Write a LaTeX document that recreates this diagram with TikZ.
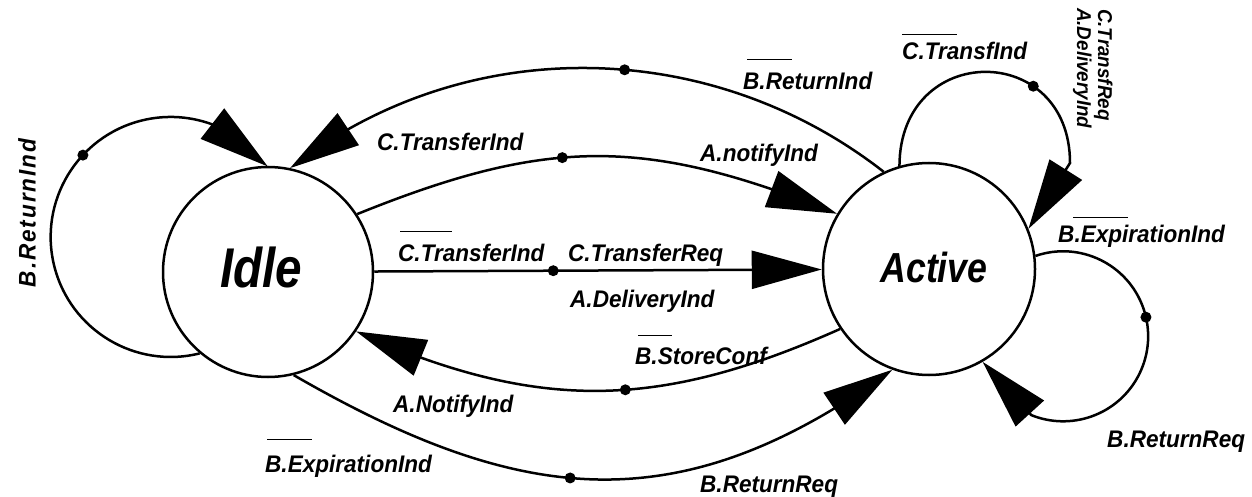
\documentclass[tikz,border=0pt]{standalone}
\usepackage{fontspec}
\setmainfont{Liberation Sans}[FakeStretch=0.94]
\newfontfamily\statefont{Liberation Sans}[FakeStretch=0.85]
\usetikzlibrary{arrows.meta,bending,calc}

% overline over the first part of a label: offset, width, raise
\newcommand\ovl[3]{\rlap{\hspace*{#1}\smash{\rule[#3]{#2}{1.4pt}}}}

\tikzset{
  state/.style={circle, draw, line width=2.5pt, inner sep=0pt},
  statetext/.style={font=\statefont\bfseries\itshape, inner sep=0pt},
  arr/.style={line width=2.5pt, -{Triangle[length=70pt,width=38pt,flex]}},
  dot/.style={circle, fill, inner sep=0pt, minimum size=11pt},
  lbl/.style={font=\fontsize{24}{26}\selectfont\bfseries\itshape, inner sep=0pt, anchor=base west},
  smalllbl/.style={font=\fontsize{20}{22}\selectfont\bfseries\itshape, inner sep=0pt, anchor=base west, rotate=-90},
}

\begin{document}
\begin{tikzpicture}[x=1pt, y=1pt]
  \useasboundingbox (0,0) rectangle (1252,496);

  % states
  \node[state, minimum size=210pt] (idle) at (268,224) {};
  \node[state, minimum size=212pt] (active) at (929,227) {};
  \node[statetext, font=\statefont\bfseries\itshape\fontsize{56}{60}\selectfont] (idletxt) at (261,229) {Idle};
  \node[statetext, font=\statefont\bfseries\itshape\fontsize{42}{46}\selectfont] (activetxt) at (934,229) {Active};

  % Idle self loop
  \coordinate (lc) at ($(idle.230)+(104:120)$);
  \draw[arr] (idle.230) arc[start angle=-76, end angle=-324, radius=120];
  \node[dot] (d1) at ($(lc)+(137:120)$) {};

  % Active -> Idle, upper arc
  \draw[arr] (active.115) to[out=142, in=38, looseness=0.95]
    node[dot, pos=0.44] (d2) {} (idle.78);

  % Idle -> Active, upper arc
  \draw[arr] (idle.33) to[out=22, in=158, looseness=1.1]
    node[dot, pos=0.42] (d3) {} (active.149);

  % Idle -> Active, straight
  \draw[arr] (idle) -- node[dot, pos=0.4] (d4) {} (active);

  % Active -> Idle, lower arc
  \draw[arr] (active.214) to[out=204, in=-24, looseness=1.05]
    node[dot, pos=0.44] (d5) {} (idle.-34);

  % Idle -> Active, bottom arc
  \draw[arr] (idle.-76) to[out=-30, in=216, looseness=1.12]
    node[dot, pos=0.45] (d6) {} (active.-110);

  % Active top loop
  \coordinate (trc) at (1070,333);
  \draw[arr] (active.106) .. controls (900,455) and (1070,455) .. (trc)
    node[dot, pos=0.7] (d7) {} -- (active.22);

  % Active right loop
  \coordinate (rc) at ($(active.7)+(-71:85)$);
  \draw[arr] (active.7) arc[start angle=109, end angle=-112, radius=85] -- (active.-60);
  \node[dot] (d8) at ($(rc)+(13:85)$) {};

  % labels
  \node[font=\fontsize{24}{26}\selectfont\bfseries\itshape\addfontfeatures{LetterSpace=8}, inner sep=0pt, rotate=90]
    (l1) at (27,283) {B.ReturnInd};
  \node[lbl] (l2) at (743,406) {\ovl{4pt}{45pt}{30pt}B.ReturnInd};
  \node[lbl] (l3) at (377,345) {C.TransferInd};
  \node[lbl] (l4) at (700,334) {A.notifyInd};
  \node[lbl] (l5) at (398,235) {\ovl{2pt}{52pt}{29pt}C.TransferInd};
  \node[lbl] (l6) at (568,235) {C.TransferReq};
  \node[lbl] (l7) at (570,189) {A.DeliveryInd};
  \node[lbl] (l8) at (635,132) {\ovl{3pt}{34pt}{28pt}B.StoreConf};
  \node[lbl] (l9) at (393,84) {A.NotifyInd};
  \node[lbl] (l10) at (265,24) {\ovl{2pt}{45pt}{32pt}B.ExpirationInd};
  \node[lbl] (l11) at (700,4) {B.ReturnReq};
  \node[lbl] (l12) at (902,436) {\ovl{0pt}{55pt}{25pt}C.TransfInd};
  \node[lbl] (l13) at (1058,254) {\ovl{15pt}{55pt}{24pt}B.ExpirationInd};
  \node[lbl] (l14) at (1107,49) {B.ReturnReq};
  \node[smalllbl] (l15) at (1098,487) {C.TransfReq};
  \node[smalllbl] (l16) at (1077,488) {A.DeliveryInd};
\end{tikzpicture}
\end{document}
